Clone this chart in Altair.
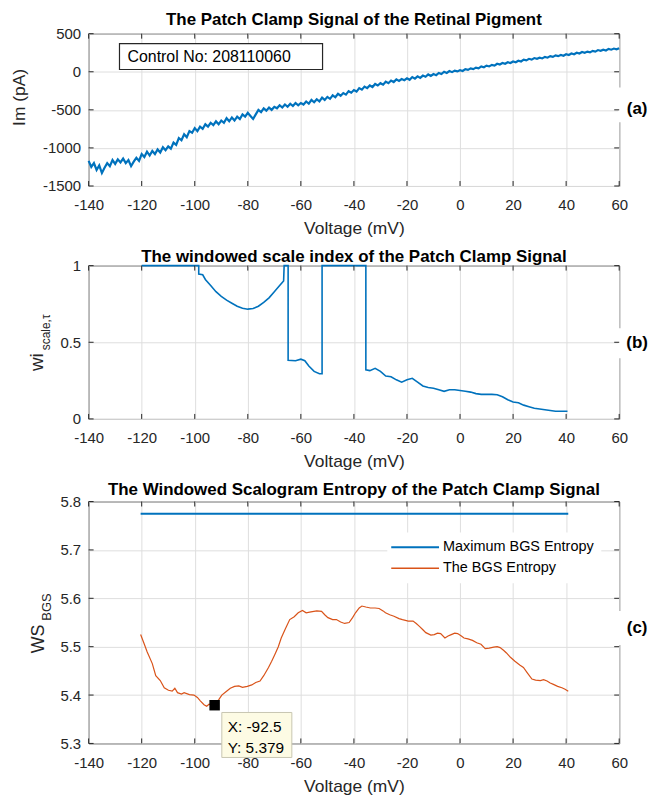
import altair as alt
import pandas as pd

FONT = "Liberation Sans"
DARK = "#262626"
BLUE = "#0072BD"
ORANGE = "#D95319"
GRID = "#dedede"
W = 533

# ---------------- data ----------------
x_ticks = [-140, -120, -100, -80, -60, -40, -20, 0, 20, 40, 60]

# (a) patch clamp current
volt_a = list(range(-140, 61))
im_a = [
    -1170, -1250, -1200, -1290, -1230, -1330, -1260, -1200, -1240, -1160,
    -1210, -1150, -1190, -1140, -1200, -1160, -1240, -1180, -1130, -1170,
    -1080, -1120, -1050, -1100, -1040, -1080, -1020, -1060, -990, -1030,
    -980, -1010, -930, -960, -870, -900, -820, -860, -780, -800,
    -740, -780, -720, -750, -690, -720, -670, -700, -650, -690,
    -640, -670, -610, -650, -600, -640, -590, -620, -560, -590,
    -540, -580, -620, -560, -500, -530, -480, -510, -470, -500,
    -460, -480, -440, -470, -430, -460, -420, -450, -410, -440,
    -410, -430, -390, -420, -370, -400, -360, -390, -340, -370,
    -330, -355, -310, -335, -290, -315, -280, -300, -255, -275,
    -240, -260, -215, -235, -195, -215, -180, -200, -160, -180,
    -150, -170, -130, -150, -115, -135, -100, -120, -95, -110,
    -85, -105, -70, -90, -60, -80, -50, -65, -35, -55,
    -30, -45, -15, -30, 0, -15, 10, -5, 15, 5,
    20, 10, 35, 25, 45, 35, 55, 45, 70, 60,
    80, 70, 90, 80, 105, 95, 115, 105, 125, 115,
    135, 125, 145, 135, 160, 150, 170, 160, 180, 170,
    185, 175, 195, 185, 205, 195, 215, 205, 220, 210,
    230, 220, 240, 230, 250, 240, 260, 250, 265, 255,
    275, 265, 285, 275, 290, 280, 300, 290, 305, 295,
    310,
]
a_yticks = [-1500, -1000, -500, 0, 500]

# (b) windowed scale index
volt_b = [-120, -98.5, -98.5, -97, -96, -94, -92, -90, -88, -86, -84, -82, -80,
          -78, -76, -74, -72, -70, -68, -67, -66.5, -66.3, -64.8, -64.8, -62,
          -60, -58.5, -57, -55, -53, -52, -52, -35.5, -35.5, -34, -32, -30,
          -28, -26, -24, -22, -20, -18, -16, -14, -12, -10, -8, -6, -4, -2,
          0, 2, 4, 6, 8, 10, 12, 14, 16, 18, 20, 22, 24, 26, 28, 30, 32, 34,
          36, 38, 40.5]
wi_b = [1.0, 1.0, 0.945, 0.94, 0.91, 0.87, 0.83, 0.8, 0.775, 0.755, 0.735,
        0.722, 0.716, 0.72, 0.735, 0.76, 0.79, 0.83, 0.87, 0.89, 0.9, 1.0,
        1.0, 0.383, 0.38, 0.39, 0.38, 0.345, 0.31, 0.295, 0.295, 1.0, 1.0,
        0.32, 0.315, 0.33, 0.31, 0.28, 0.275, 0.255, 0.24, 0.255, 0.265,
        0.24, 0.215, 0.205, 0.2, 0.19, 0.18, 0.19, 0.19, 0.185, 0.18, 0.175,
        0.165, 0.16, 0.16, 0.16, 0.158, 0.145, 0.125, 0.11, 0.105, 0.09,
        0.08, 0.07, 0.065, 0.06, 0.055, 0.05, 0.05, 0.05]
b_yticks = [0, 0.5, 1]

# (c) windowed scalogram entropy
volt_c = [-120.4, -119, -118, -116, -114.7, -113, -111.5, -109.9, -108.5,
          -107.5, -106.5, -105, -104, -102, -100.3, -99, -97.9, -96.5, -95.5,
          -94.6, -92.5, -91, -89.8, -88, -86.6, -85, -83.4, -82, -80.2, -78.5,
          -77, -75.4, -74, -72.2, -71, -69.8, -68.5, -67.4, -66, -64.2, -62.5,
          -61, -59.4, -58, -56.2, -54, -52.2, -51, -49.8, -48, -46.6, -45,
          -43.5, -41.8, -40.5, -39.4, -38, -37, -35.5, -33.8, -32, -30.5, -29,
          -28.1, -26.5, -24.9, -23, -21.7, -19.5, -17.7, -16.5, -15.3, -14,
          -12.9, -11, -9.7, -8.5, -7.3, -5.7, -4.5, -3.3, -2, -0.9, 0.5, 1.5,
          3, 4.7, 6.3, 7.9, 9.5, 11, 12.7, 14, 15.1, 16.5, 17.5, 19, 20.7,
          22.5, 23.9, 25.5, 27.1, 28.5, 30.3, 31.5, 32.8, 34, 35.2, 36.8,
          38.4, 39.6, 40.8]
ws_c = [5.525, 5.505, 5.49, 5.465, 5.44, 5.43, 5.415, 5.41, 5.408, 5.414,
        5.405, 5.402, 5.405, 5.401, 5.4, 5.395, 5.388, 5.38, 5.377, 5.381,
        5.379, 5.39, 5.4, 5.408, 5.414, 5.418, 5.419, 5.416, 5.418, 5.421,
        5.426, 5.429, 5.44, 5.457, 5.47, 5.484, 5.5, 5.518, 5.535, 5.556,
        5.562, 5.57, 5.575, 5.57, 5.572, 5.574, 5.573, 5.566, 5.56, 5.556,
        5.556, 5.551, 5.548, 5.55, 5.56, 5.57, 5.58, 5.584, 5.582, 5.58,
        5.58, 5.579, 5.574, 5.57, 5.566, 5.563, 5.558, 5.556, 5.553, 5.553,
        5.548, 5.542, 5.535, 5.529, 5.524, 5.525, 5.528, 5.527, 5.518,
        5.522, 5.525, 5.528, 5.527, 5.522, 5.518, 5.516, 5.513, 5.508,
        5.505, 5.496, 5.497, 5.499, 5.5, 5.498, 5.492, 5.487, 5.478, 5.47,
        5.462, 5.457, 5.445, 5.433, 5.431, 5.43, 5.432, 5.429, 5.425, 5.422,
        5.418, 5.415, 5.412, 5.408]
max_x = [-120.4, 40.8]
max_entropy = [5.7746, 5.7746]
c_yticks = [5.3, 5.4, 5.5, 5.6, 5.7, 5.8]
series_names = ["Maximum BGS Entropy", "The BGS Entropy"]

tip_x = [-92.5]
tip_y = [5.379]
tip_labels = ["X: -92.5", "Y: 5.379"]

# ---------------- helpers ----------------
XS = alt.Scale(domain=[-140, 60], nice=False, zero=False)


def x_axis():
    return alt.Axis(values=x_ticks, title="Voltage (mV)", grid=True,
                    gridColor=GRID, domain=False, ticks=False,
                    labelFontSize=15, labelPadding=12, labelColor=DARK,
                    labelFont=FONT, titleFont=FONT, titleFontSize=17.5,
                    titleFontWeight="normal", titleColor=DARK, titlePadding=7,
                    labelOverlap=False, labelFlush=False,
                    labelExpr="'' + datum.value")


def y_axis(vals, expr):
    return alt.Axis(values=vals, title=None, grid=True, gridColor=GRID,
                    domain=False, ticks=False, labelFontSize=15,
                    labelPadding=8, labelColor=DARK, labelFont=FONT,
                    labelOverlap=False, labelFlush=False, labelExpr=expr)


def X(field="v"):
    return alt.X(f"{field}:Q", scale=XS, axis=x_axis())


def one(**kw):
    return pd.DataFrame({k: [v] for k, v in kw.items()})


def tick_layers(yfield, yscale, yaxis, yticks, h):
    dx = pd.DataFrame({"v": x_ticks})
    dy = pd.DataFrame({yfield: yticks})
    Y = alt.Y(f"{yfield}:Q", scale=yscale, axis=yaxis)
    top = alt.Chart(dx).mark_rule(color=DARK, strokeWidth=1).encode(
        x=X(), y=alt.value(0), y2=alt.value(5))
    bot = alt.Chart(dx).mark_rule(color=DARK, strokeWidth=1).encode(
        x=X(), y=alt.value(h - 5), y2=alt.value(h))
    left = alt.Chart(dy).mark_rule(color=DARK, strokeWidth=1).encode(
        y=Y, x=alt.value(0), x2=alt.value(5))
    right = alt.Chart(dy).mark_rule(color=DARK, strokeWidth=1).encode(
        y=Y, x=alt.value(W - 5), x2=alt.value(W))
    return [top, bot, left, right]


def spacer():
    return alt.Chart(one(t=0)).mark_rule(strokeOpacity=0).encode(
        x=alt.value(-80), x2=alt.value(-79), y=alt.value(0), y2=alt.value(1))


def side_label(label, y0, y1, ymid):
    gap = alt.Chart(one(t=0)).mark_rect(color="white").encode(
        x=alt.value(532), x2=alt.value(575), y=alt.value(y0), y2=alt.value(y1))
    txt = alt.Chart(one(t=label)).mark_text(
        font=FONT, fontSize=17, fontWeight="bold", color="black",
        align="center", baseline="middle").encode(
        text="t:N", x=alt.value(551), y=alt.value(ymid))
    return [gap, txt]


def title(text, offset):
    return alt.TitleParams(text, fontSize=17, fontWeight="bold", font=FONT,
                           color="black", anchor="middle", frame="group",
                           offset=offset)


# ---------------- panel (a) ----------------
HA = 153
YSA = alt.Scale(domain=[-1500, 500], nice=False, zero=False)
YAA = y_axis(a_yticks, "'' + datum.value")
df_a = pd.DataFrame({"v": volt_a, "im": im_a})
line_a = alt.Chart(df_a).mark_line(color=BLUE, strokeWidth=2.2).encode(
    x=X(), y=alt.Y("im:Q", scale=YSA, axis=YAA))
box_a = alt.Chart(one(t=0)).mark_rect(fill="white", stroke=DARK, strokeWidth=1.2).encode(
    x=alt.value(31), x2=alt.value(235), y=alt.value(10), y2=alt.value(36))
box_txt = alt.Chart(one(t="Control No: 208110060")).mark_text(
    font=FONT, fontSize=16, color="black", align="left", baseline="middle").encode(
    text="t:N", x=alt.value(39), y=alt.value(23.5))
ytitle_a = alt.Chart(one(t="Im (pA)")).mark_text(
    font=FONT, fontSize=17.5, color=DARK, angle=270, align="center",
    baseline="alphabetic").encode(text="t:N", x=alt.value(-63.5), y=alt.value(64))
panel_a = alt.layer(
    spacer(), line_a, *side_label("(a)", 54, 89, 76),
    *tick_layers("im", YSA, YAA, a_yticks, HA),
    box_a, box_txt, ytitle_a,
).properties(width=W, height=HA, title=title("The Patch Clamp Signal of the Retinal Pigment", -2))

# ---------------- panel (b) ----------------
HB = 154
YSB = alt.Scale(domain=[0, 1], nice=False)
YAB = y_axis(b_yticks, "'' + datum.value")
df_b = pd.DataFrame({"v": volt_b, "wi": wi_b, "k": list(range(len(volt_b)))})
line_b = alt.Chart(df_b).mark_line(color=BLUE, strokeWidth=1.6).encode(
    x=X(), y=alt.Y("wi:Q", scale=YSB, axis=YAB), order="k:Q")
yt_b1 = alt.Chart(one(t="wi")).mark_text(
    font=FONT, fontSize=19, color=DARK, angle=270, align="center",
    baseline="alphabetic").encode(text="t:N", x=alt.value(-46), y=alt.value(97))
yt_b2 = alt.Chart(one(t="scale,τ")).mark_text(
    font=FONT, fontSize=12, color=DARK, angle=270, align="center",
    baseline="alphabetic").encode(text="t:N", x=alt.value(-38.5), y=alt.value(67))
panel_b = alt.layer(
    spacer(), line_b, *side_label("(b)", 63, 93, 78),
    *tick_layers("wi", YSB, YAB, b_yticks, HB),
    yt_b1, yt_b2,
).properties(width=W, height=HB, title=title("The windowed scale index of the Patch Clamp Signal", -7))

# ---------------- panel (c) ----------------
HC = 243
YSC = alt.Scale(domain=[5.3, 5.8], nice=False, zero=False)
YAC = y_axis(c_yticks, "format(datum.value, '.1f')")
df_c = pd.DataFrame({"v": volt_c, "ws": ws_c})
df_max = pd.DataFrame({"v": max_x, "ws": max_entropy})
line_max = alt.Chart(df_max).mark_line(color=BLUE, strokeWidth=2).encode(
    x=X(), y=alt.Y("ws:Q", scale=YSC, axis=YAC))
line_c = alt.Chart(df_c).mark_line(color=ORANGE, strokeWidth=1.2).encode(
    x=X(), y=alt.Y("ws:Q", scale=YSC, axis=YAC))

leg_bg = alt.Chart(one(t=0)).mark_rect(color="white").encode(
    x=alt.value(300), x2=alt.value(515), y=alt.value(31), y2=alt.value(82))
leg_l1 = alt.Chart(one(t=0)).mark_rule(color=BLUE, strokeWidth=2).encode(
    x=alt.value(304), x2=alt.value(352), y=alt.value(46))
leg_l2 = alt.Chart(one(t=0)).mark_rule(color=ORANGE, strokeWidth=1.5).encode(
    x=alt.value(304), x2=alt.value(352), y=alt.value(67))
leg_t1 = alt.Chart(one(t=series_names[0])).mark_text(
    font=FONT, fontSize=14.5, color="black", align="left", baseline="middle").encode(
    text="t:N", x=alt.value(356), y=alt.value(46))
leg_t2 = alt.Chart(one(t=series_names[1])).mark_text(
    font=FONT, fontSize=14.5, color="black", align="left", baseline="middle").encode(
    text="t:N", x=alt.value(356), y=alt.value(67))

df_tip = pd.DataFrame({"v": tip_x, "ws": tip_y})
tip_sq = alt.Chart(df_tip).mark_square(size=110, color="black", opacity=1).encode(
    x=X(), y=alt.Y("ws:Q", scale=YSC, axis=YAC))
tip_box = alt.Chart(one(v=-89.8, v2=-63.4, ws=5.364, ws2=5.271)).mark_rect(
    fill="#fdfbe4", stroke="#c8c6b0", strokeWidth=1).encode(
    x=X(), x2="v2:Q", y=alt.Y("ws:Q", scale=YSC, axis=YAC), y2="ws2:Q")
tip_txt = alt.Chart(pd.DataFrame({"v": [-87.6, -87.6], "ws": [5.333, 5.29], "t": tip_labels})).mark_text(
    font=FONT, fontSize=15.5, color="black", align="left", baseline="middle").encode(
    x=X(), y=alt.Y("ws:Q", scale=YSC, axis=YAC), text="t:N")

yt_c1 = alt.Chart(one(t="WS")).mark_text(
    font=FONT, fontSize=18, color=DARK, angle=270, align="center",
    baseline="alphabetic").encode(text="t:N", x=alt.value(-45), y=alt.value(138))
yt_c2 = alt.Chart(one(t="BGS")).mark_text(
    font=FONT, fontSize=13, color=DARK, angle=270, align="center",
    baseline="alphabetic").encode(text="t:N", x=alt.value(-38), y=alt.value(106))

panel_c = alt.layer(
    spacer(), line_max, line_c, *side_label("(c)", 110, 144, 127),
    *tick_layers("ws", YSC, YAC, c_yticks, HC),
    leg_bg, leg_l1, leg_l2, leg_t1, leg_t2, tip_box, tip_sq, tip_txt, yt_c1, yt_c2,
).properties(width=W, height=HC, title=title("The Windowed Scalogram Entropy of the Patch Clamp Signal", -4))

chart = alt.vconcat(panel_a, panel_b, panel_c, spacing=9).properties(
    padding=0, background="white"
).configure_view(stroke=DARK, strokeWidth=1)

chart.save("out.html", embed_options={"renderer": "svg", "actions": False})
